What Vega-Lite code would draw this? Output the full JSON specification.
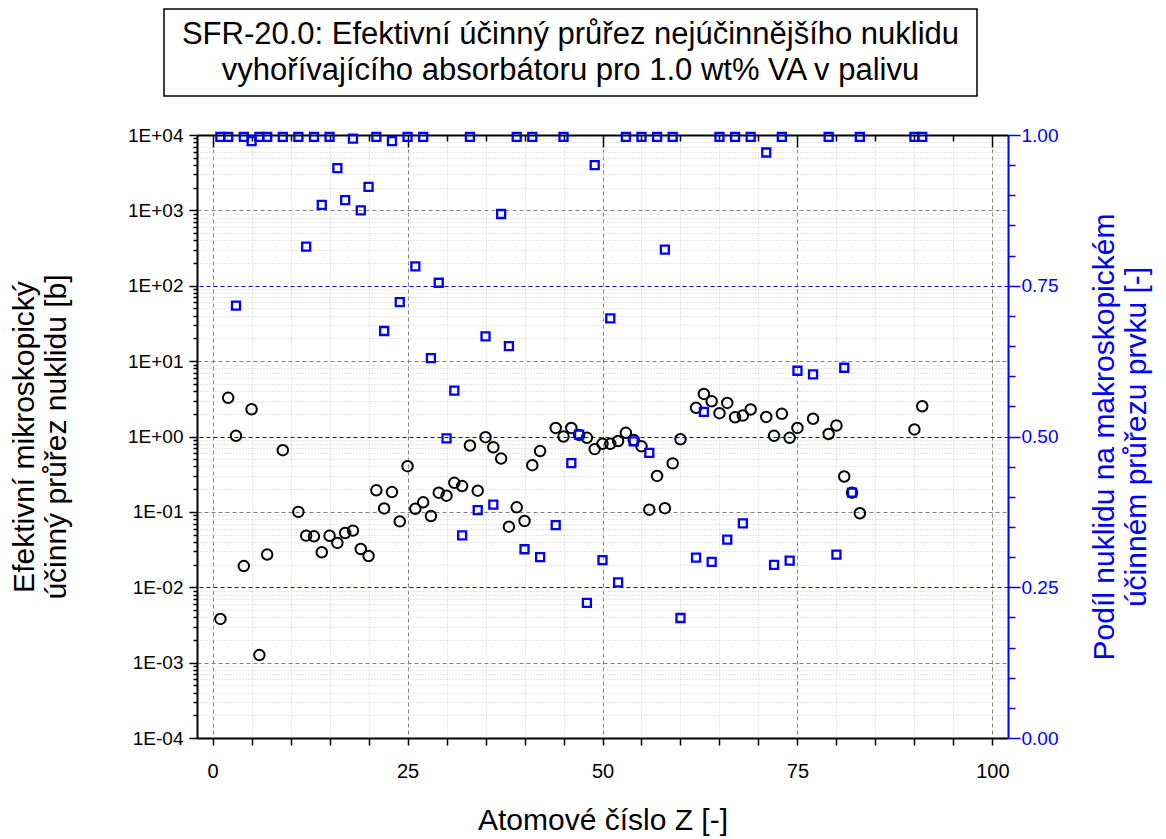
{
  "$schema": "https://vega.github.io/schema/vega-lite/v6.json",
  "padding": {"left": 8, "top": 8, "right": 2, "bottom": 2},
  "background": "white",
  "spacing": 29,
  "config": {
    "font": "Liberation Sans",
    "view": {"stroke": null},
    "axis": {"labelFont": "Liberation Sans", "titleFont": "Liberation Sans", "titleFontWeight": "normal"}
  },
  "datasets": {
    "circles": [
      {"Z": 1, "xs": 0.0038}, {"Z": 2, "xs": 3.26}, {"Z": 3, "xs": 1.02}, {"Z": 4, "xs": 0.0191},
      {"Z": 5, "xs": 2.3}, {"Z": 6, "xs": 0.00126}, {"Z": 7, "xs": 0.0271}, {"Z": 9, "xs": 0.659},
      {"Z": 11, "xs": 0.1}, {"Z": 12, "xs": 0.0484}, {"Z": 13, "xs": 0.0474}, {"Z": 14, "xs": 0.0291},
      {"Z": 15, "xs": 0.0482}, {"Z": 16, "xs": 0.0387}, {"Z": 17, "xs": 0.0525}, {"Z": 18, "xs": 0.0564},
      {"Z": 19, "xs": 0.0322}, {"Z": 20, "xs": 0.026}, {"Z": 21, "xs": 0.193}, {"Z": 22, "xs": 0.111},
      {"Z": 23, "xs": 0.183}, {"Z": 24, "xs": 0.0748}, {"Z": 25, "xs": 0.404}, {"Z": 26, "xs": 0.11},
      {"Z": 27, "xs": 0.134}, {"Z": 28, "xs": 0.088}, {"Z": 29, "xs": 0.18}, {"Z": 30, "xs": 0.164},
      {"Z": 31, "xs": 0.243}, {"Z": 32, "xs": 0.22}, {"Z": 33, "xs": 0.76}, {"Z": 34, "xs": 0.191},
      {"Z": 35, "xs": 0.98}, {"Z": 36, "xs": 0.72}, {"Z": 37, "xs": 0.51}, {"Z": 38, "xs": 0.0637},
      {"Z": 39, "xs": 0.115}, {"Z": 40, "xs": 0.0757}, {"Z": 41, "xs": 0.417}, {"Z": 42, "xs": 0.64},
      {"Z": 44, "xs": 1.3}, {"Z": 45, "xs": 1.0}, {"Z": 46, "xs": 1.3}, {"Z": 47, "xs": 1.05},
      {"Z": 48, "xs": 0.96}, {"Z": 49, "xs": 0.68}, {"Z": 50, "xs": 0.8}, {"Z": 51, "xs": 0.8},
      {"Z": 52, "xs": 0.87}, {"Z": 53, "xs": 1.12}, {"Z": 54, "xs": 0.9}, {"Z": 55, "xs": 0.74},
      {"Z": 56, "xs": 0.107}, {"Z": 57, "xs": 0.3}, {"Z": 58, "xs": 0.112}, {"Z": 59, "xs": 0.44},
      {"Z": 60, "xs": 0.92}, {"Z": 62, "xs": 2.4}, {"Z": 63, "xs": 3.67}, {"Z": 64, "xs": 2.93},
      {"Z": 65, "xs": 2.04}, {"Z": 66, "xs": 2.79}, {"Z": 67, "xs": 1.8}, {"Z": 68, "xs": 1.9},
      {"Z": 69, "xs": 2.28}, {"Z": 71, "xs": 1.82}, {"Z": 72, "xs": 1.02}, {"Z": 73, "xs": 2.0},
      {"Z": 74, "xs": 0.96}, {"Z": 75, "xs": 1.3}, {"Z": 77, "xs": 1.72}, {"Z": 79, "xs": 1.08},
      {"Z": 80, "xs": 1.4}, {"Z": 81, "xs": 0.295}, {"Z": 82, "xs": 0.18}, {"Z": 83, "xs": 0.096},
      {"Z": 90, "xs": 1.24}, {"Z": 91, "xs": 2.52}
    ],
    "squares": [
      {"Z": 1, "frac": 0.997}, {"Z": 2, "frac": 0.997}, {"Z": 3, "frac": 0.717}, {"Z": 4, "frac": 0.997},
      {"Z": 5, "frac": 0.99}, {"Z": 6, "frac": 0.997}, {"Z": 7, "frac": 0.997}, {"Z": 9, "frac": 0.997},
      {"Z": 11, "frac": 0.997}, {"Z": 12, "frac": 0.815}, {"Z": 13, "frac": 0.997}, {"Z": 14, "frac": 0.884},
      {"Z": 15, "frac": 0.997}, {"Z": 16, "frac": 0.945}, {"Z": 17, "frac": 0.892}, {"Z": 18, "frac": 0.994},
      {"Z": 19, "frac": 0.875}, {"Z": 20, "frac": 0.914}, {"Z": 21, "frac": 0.997}, {"Z": 22, "frac": 0.675},
      {"Z": 23, "frac": 0.99}, {"Z": 24, "frac": 0.723}, {"Z": 25, "frac": 0.997}, {"Z": 26, "frac": 0.782},
      {"Z": 27, "frac": 0.997}, {"Z": 28, "frac": 0.63}, {"Z": 29, "frac": 0.755}, {"Z": 30, "frac": 0.497},
      {"Z": 31, "frac": 0.576}, {"Z": 32, "frac": 0.336}, {"Z": 33, "frac": 0.997}, {"Z": 34, "frac": 0.378},
      {"Z": 35, "frac": 0.666}, {"Z": 36, "frac": 0.387}, {"Z": 37, "frac": 0.869}, {"Z": 38, "frac": 0.65},
      {"Z": 39, "frac": 0.997}, {"Z": 40, "frac": 0.313}, {"Z": 41, "frac": 0.997}, {"Z": 42, "frac": 0.3},
      {"Z": 44, "frac": 0.353}, {"Z": 45, "frac": 0.997}, {"Z": 46, "frac": 0.456}, {"Z": 47, "frac": 0.503},
      {"Z": 48, "frac": 0.224}, {"Z": 49, "frac": 0.95}, {"Z": 50, "frac": 0.295}, {"Z": 51, "frac": 0.696},
      {"Z": 52, "frac": 0.258}, {"Z": 53, "frac": 0.997}, {"Z": 54, "frac": 0.492}, {"Z": 55, "frac": 0.997},
      {"Z": 56, "frac": 0.473}, {"Z": 57, "frac": 0.997}, {"Z": 58, "frac": 0.81}, {"Z": 59, "frac": 0.997},
      {"Z": 60, "frac": 0.199}, {"Z": 62, "frac": 0.299}, {"Z": 63, "frac": 0.541}, {"Z": 64, "frac": 0.292},
      {"Z": 65, "frac": 0.997}, {"Z": 66, "frac": 0.329}, {"Z": 67, "frac": 0.997}, {"Z": 68, "frac": 0.356},
      {"Z": 69, "frac": 0.997}, {"Z": 71, "frac": 0.971}, {"Z": 72, "frac": 0.287}, {"Z": 73, "frac": 0.997},
      {"Z": 74, "frac": 0.294}, {"Z": 75, "frac": 0.609}, {"Z": 77, "frac": 0.603}, {"Z": 79, "frac": 0.997},
      {"Z": 80, "frac": 0.304}, {"Z": 81, "frac": 0.614}, {"Z": 82, "frac": 0.407}, {"Z": 83, "frac": 0.997},
      {"Z": 90, "frac": 0.997}, {"Z": 91, "frac": 0.997}
    ]
  },
  "vconcat": [
    {
      "spacing": 20,
      "hconcat": [
        {
          "width": 135,
          "height": 87,
          "data": {"values": []},
          "mark": {"type": "text"},
          "encoding": {}
        },
        {
          "width": 813,
          "height": 87,
          "view": {"stroke": "black", "strokeWidth": 1.5},
          "data": {"values": [
            {"line": 1, "text": "SFR-20.0: Efektivní účinný průřez nejúčinnějšího nuklidu"},
            {"line": 2, "text": "vyhořívajícího absorbátoru pro 1.0 wt% VA v palivu"}
          ]},
          "mark": {"type": "text", "fontSize": 31, "font": "Liberation Sans", "baseline": "middle", "align": "center", "color": "black"},
          "encoding": {
            "y": {"field": "line", "type": "quantitative",
                  "scale": {"domain": [0.28, 2.69], "reverse": true, "nice": false, "zero": false},
                  "axis": null},
            "text": {"field": "text"}
          }
        }
      ]
    },
    {
      "spacing": 0,
      "hconcat": [
        {
          "width": 1,
          "height": 603,
          "data": {"values": []},
          "mark": {"type": "text"},
          "encoding": {}
        },
        {
          "width": 811,
          "height": 603,
          "layer": [
            {
              "data": {"name": "circles"},
              "mark": {"type": "point", "shape": "circle", "filled": false, "stroke": "black", "strokeWidth": 2, "size": 110, "opacity": 1, "clip": false},
              "encoding": {
                "x": {"field": "Z", "type": "quantitative",
                      "scale": {"domain": [-2, 102], "nice": false, "zero": false},
                      "axis": {
                        "orient": "bottom",
                        "values": [0, 5, 10, 15, 20, 25, 30, 35, 40, 45, 50, 55, 60, 65, 70, 75, 80, 85, 90, 95, 100],
                        "labelExpr": "datum.value % 25 == 0 ? datum.value : ''",
                        "labelFontSize": 20, "labelColor": "black", "labelPadding": 16,
                        "tickSize": 7, "tickColor": "black", "tickWidth": 1.5,
                        "domainColor": "black", "domainWidth": 2,
                        "grid": true,
                        "gridColor": {"condition": {"test": "datum.value % 25 == 0", "value": "#808080"}, "value": "#cfcfcf"},
                        "gridDash": {"condition": {"test": "datum.value % 25 == 0", "value": [4, 3]}, "value": [1, 2]},
                        "gridWidth": 1,
                        "title": "Atomové číslo Z [-]", "titleFontSize": 30, "titleColor": "black", "titlePadding": 24
                      }},
                "y": {"field": "xs", "type": "quantitative",
                      "scale": {"type": "log", "domain": [0.0001, 10000], "nice": false},
                      "axis": {
                        "orient": "left",
                        "values": [0.0001,0.0002,0.0003,0.0004,0.0005,0.0006,0.0007,0.0008,0.0009,
                                   0.001,0.002,0.003,0.004,0.005,0.006,0.007,0.008,0.009,
                                   0.01,0.02,0.03,0.04,0.05,0.06,0.07,0.08,0.09,
                                   0.1,0.2,0.3,0.4,0.5,0.6,0.7,0.8,0.9,
                                   1,2,3,4,5,6,7,8,9,
                                   10,20,30,40,50,60,70,80,90,
                                   100,200,300,400,500,600,700,800,900,
                                   1000,2000,3000,4000,5000,6000,7000,8000,9000,10000],
                        "labelExpr": "abs(log(datum.value)/LN10 - round(log(datum.value)/LN10)) < 0.001 ? '1E' + (datum.value >= 1 ? '+' : '-') + (abs(round(log(datum.value)/LN10)) < 10 ? '0' : '') + abs(round(log(datum.value)/LN10)) : ''",
                        "labelFontSize": 19, "labelColor": "black", "labelPadding": 6,
                        "tickSize": {"condition": {"test": "abs(log(datum.value)/LN10 - round(log(datum.value)/LN10)) < 0.001", "value": 8}, "value": 4},
                        "tickColor": "black", "tickWidth": 1.5,
                        "domainColor": "black", "domainWidth": 2,
                        "grid": true,
                        "gridColor": {"condition": {"test": "abs(log(datum.value)/LN10 - round(log(datum.value)/LN10)) < 0.001", "value": "#808080"}, "value": "#cfcfcf"},
                        "gridDash": {"condition": {"test": "abs(log(datum.value)/LN10 - round(log(datum.value)/LN10)) < 0.001", "value": [4, 3]}, "value": [1, 2]},
                        "gridOpacity": {"condition": {"test": "abs(log(datum.value)/LN10 - round(log(datum.value)/LN10)) < 0.001 && round(log(datum.value)/LN10) % 2 == 0", "value": 0}, "value": 1},
                        "title": ["Efektivní mikroskopický", "účinný průřez nuklidu [b]"],
                        "titleFontSize": 30, "titleColor": "black", "titlePadding": 56
                      }}
              }
            },
            {
              "data": {"name": "squares"},
              "mark": {"type": "point", "shape": "square", "filled": false, "stroke": "#0000FF", "strokeWidth": 2.3, "size": 64, "opacity": 1, "clip": false},
              "encoding": {
                "x": {"field": "Z", "type": "quantitative",
                      "axis": {
                        "orient": "top",
                        "values": [0, 5, 10, 15, 20, 25, 30, 35, 40, 45, 50, 55, 60, 65, 70, 75, 80, 85, 90, 95, 100],
                        "labels": false, "grid": false, "title": null,
                        "tickSize": {"condition": {"test": "datum.value % 25 == 0", "value": -12}, "value": -6},
                        "tickColor": "black", "tickWidth": 1.5,
                        "domainColor": "black", "domainWidth": 2
                      }},
                "y": {"field": "frac", "type": "quantitative",
                      "scale": {"domain": [0, 1], "nice": false, "zero": false},
                      "axis": {
                        "orient": "right",
                        "values": [0, 0.05, 0.1, 0.15, 0.2, 0.25, 0.3, 0.35, 0.4, 0.45, 0.5, 0.55, 0.6, 0.65, 0.7, 0.75, 0.8, 0.85, 0.9, 0.95, 1],
                        "labelExpr": "abs(datum.value*4 - round(datum.value*4)) < 0.001 ? format(datum.value, '.2f') : ''",
                        "labelFontSize": 19, "labelColor": "#0000FF", "labelPadding": 1,
                        "tickSize": {"condition": {"test": "abs(datum.value*4 - round(datum.value*4)) < 0.001", "value": 12}, "value": 7},
                        "tickColor": "#0000FF", "tickWidth": 1.5,
                        "domainColor": "#0000FF", "domainWidth": 2,
                        "grid": true,
                        "gridColor": "#0000FF",
                        "gridDash": [4, 3],
                        "gridWidth": 1,
                        "gridOpacity": {"condition": {"test": "abs(datum.value*4 - round(datum.value*4)) < 0.001 && datum.value > 0.01 && datum.value < 0.99", "value": 1}, "value": 0},
                        "title": ["Podíl nuklidu na makroskopickém", "účinném průřezu prvku [-]"],
                        "titleAngle": -90, "titleBaseline": "top",
                        "titleFontSize": 30, "titleColor": "#0000FF", "titlePadding": 0
                      }}
              }
            }
          ],
          "resolve": {"scale": {"y": "independent"}, "axis": {"x": "independent", "y": "independent"}}
        }
      ]
    }
  ]
}
